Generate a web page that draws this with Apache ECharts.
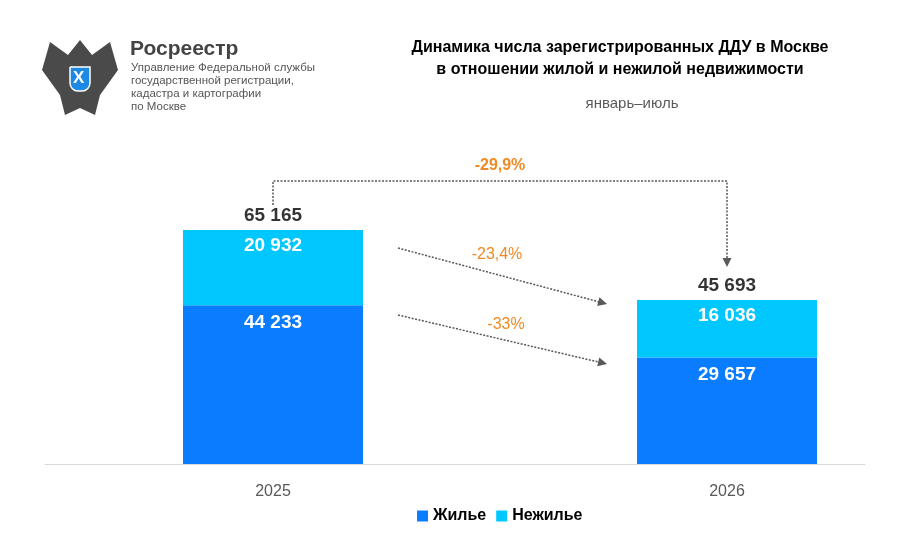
<!DOCTYPE html>
<html><head><meta charset="utf-8">
<script src="https://cdn.jsdelivr.net/npm/echarts@6/dist/echarts.min.js"></script>
<style>html,body{margin:0;padding:0;background:#fff}#chart{width:907px;height:547px}</style>
</head><body><div id="chart"></div>
<script>
// данные
let years = ['2025', '2026']
let living = [44233, 29657]
let nonLiving = [20932, 16036]
let totals = [65165, 45693]
let changes = ['-29,9%', '-23,4%', '-33%']

let fmt = function (v) {
  return String(v).replace(/\B(?=(\d{3})+(?!\d))/g, ' ')
}

let el = document.querySelector('#chart')
let chart = echarts.init(el)
let font = 'Arial, "Liberation Sans", sans-serif'

let option = {
  animation: false,
  textStyle: {fontFamily: font},
  grid: [
    {left: 273, right: 180, top: 130, bottom: 83},
    {left: 45, right: 42, top: 130, bottom: 83}
  ],
  xAxis: [
    {
      type: 'category', data: years, gridIndex: 0, boundaryGap: false,
      axisLine: {show: false}, axisTick: {show: false},
      axisLabel: {color: '#595959', fontSize: 16, margin: 20}
    },
    {
      type: 'value', gridIndex: 1, min: 0, max: 1,
      splitLine: {show: false}, axisTick: {show: false}, axisLabel: {show: false},
      axisLine: {show: true, lineStyle: {color: '#d9d9d9'}}
    }
  ],
  yAxis: [
    {type: 'value', min: 0, max: 93000, show: false, gridIndex: 0},
    {type: 'value', min: 0, max: 1, show: false, gridIndex: 1}
  ],
  legend: {
    bottom: 18, left: 412, itemWidth: 11, itemHeight: 11, itemGap: 10,
    icon: 'rect',
    textStyle: {fontSize: 16, fontWeight: 'bold', color: '#000', fontFamily: font},
    data: ['Жилье', 'Нежилье']
  },
  series: [
    {
      name: 'Жилье', type: 'bar', stack: 'a', barWidth: 180,
      itemStyle: {color: '#0A7CFF'},
      label: {show: true, position: 'insideTop', distance: 8, color: '#fff',
        fontSize: 19, fontWeight: 'bold', formatter: p => fmt(p.value)},
      data: living
    },
    {
      name: 'Нежилье', type: 'bar', stack: 'a', barWidth: 180,
      itemStyle: {color: '#00C8FF'},
      label: {show: true, position: 'insideTop', distance: 6, color: '#fff',
        fontSize: 19, fontWeight: 'bold', formatter: p => fmt(p.value)},
      data: nonLiving
    },
    {
      name: 'Итого', type: 'scatter', symbolSize: 0, silent: true,
      label: {show: true, position: 'top', distance: 5, color: '#000',
        fontSize: 19, fontWeight: 'bold', formatter: p => fmt(p.value)},
      data: totals
    }
  ]
}
chart.setOption(option)

// стрелки и подписи изменений
let p = function (i, y) { return chart.convertToPixel({gridIndex: 0}, [years[i], y]) }
let a0 = p(0, totals[0]), a1 = p(1, totals[1])
let topY = a0[1] - 49
let dash = {stroke: '#595959', lineWidth: 1.5, lineDash: [2, 1.5]}
let arrowHead = function (x, y, ang) {
  let s = 9, w = 4.5
  let c = Math.cos(ang), sn = Math.sin(ang)
  return {type: 'polygon', shape: {points: [[x, y],
    [x - s * c - w * sn, y - s * sn + w * c], [x - s * c + w * sn, y - s * sn - w * c]]},
    style: {fill: '#595959'}}
}
let diag = function (y1, y2) {
  let x1 = a0[0] + 125, x2 = a1[0] - 120
  let ang = Math.atan2(y2 - y1, x2 - x1)
  return [
    {type: 'line', shape: {x1: x1, y1: y1, x2: x2 - 8 * Math.cos(ang), y2: y2 - 8 * Math.sin(ang)}, style: dash},
    arrowHead(x2, y2, ang)
  ]
}
let orange = '#F08A24'
let graphics = [
  {type: 'polyline', shape: {points: [[a0[0], a0[1] - 25], [a0[0], topY], [a1[0], topY], [a1[0], a1[1] - 42]]}, style: Object.assign({fill: null}, dash)},
  arrowHead(a1[0], a1[1] - 33, Math.PI / 2),
  {type: 'text', x: (a0[0] + a1[0]) / 2, y: topY - 15, style: {text: changes[0], fill: orange, font: 'bold 16px ' + font, align: 'center', verticalAlign: 'middle'}},
  {type: 'text', x: 497, y: 255, style: {text: changes[1], fill: orange, font: '16px ' + font, align: 'center', verticalAlign: 'middle'}},
  {type: 'text', x: 506, y: 325, style: {text: changes[2], fill: orange, font: '16px ' + font, align: 'center', verticalAlign: 'middle'}},
  // заголовок
  {type: 'text', x: 620, y: 48, style: {text: 'Динамика числа зарегистрированных ДДУ в Москве', fill: '#000', font: 'bold 16px ' + font, align: 'center', verticalAlign: 'middle'}},
  {type: 'text', x: 620, y: 70, style: {text: 'в отношении жилой и нежилой недвижимости', fill: '#000', font: 'bold 16px ' + font, align: 'center', verticalAlign: 'middle'}},
  {type: 'text', x: 632, y: 104, style: {text: 'январь–июль', fill: '#595959', font: '15px ' + font, align: 'center', verticalAlign: 'middle'}},
  // логотип
  {type: 'polygon', shape: {points: [[50, 42], [68, 55], [80, 40], [92, 55], [110, 42], [118, 70], [100, 95], [95, 115], [80, 108], [65, 115], [60, 95], [42, 70]]}, style: {fill: '#4a4a4a'}},
  {type: 'rect', shape: {x: 70, y: 67, width: 20, height: 24, r: [0, 0, 8, 8]}, style: {fill: '#1E88E5', stroke: '#fff', lineWidth: 1.5}},
  {type: 'text', x: 73, y: 70, style: {text: 'X', fill: '#fff', font: 'bold 17px ' + font}},
  {type: 'text', x: 130, y: 49, style: {text: 'Росреестр', fill: '#444', font: 'bold 21px ' + font, verticalAlign: 'middle'}},
  {type: 'text', x: 131, y: 68, style: {text: 'Управление Федеральной службы', fill: '#555', font: '11.5px ' + font, verticalAlign: 'middle'}},
  {type: 'text', x: 131, y: 81, style: {text: 'государственной регистрации,', fill: '#555', font: '11.5px ' + font, verticalAlign: 'middle'}},
  {type: 'text', x: 131, y: 94, style: {text: 'кадастра и картографии', fill: '#555', font: '11.5px ' + font, verticalAlign: 'middle'}},
  {type: 'text', x: 131, y: 107, style: {text: 'по Москве', fill: '#555', font: '11.5px ' + font, verticalAlign: 'middle'}}
].concat(diag(248, 304), diag(315, 364))
chart.setOption({graphic: graphics})
</script>
</body></html>
